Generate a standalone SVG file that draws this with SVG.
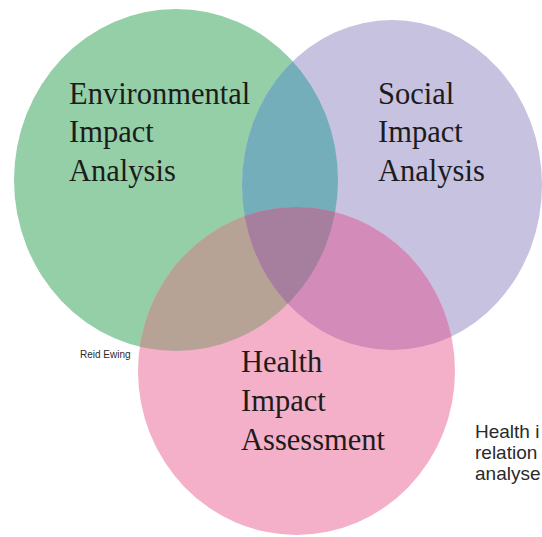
<svg xmlns="http://www.w3.org/2000/svg" width="542" height="537" viewBox="0 0 542 537">
  <style>
    .label { font-family: "Liberation Serif", "Times New Roman", serif; font-size: 30.5px; fill: #1c1c1c; }
    .note { font-family: "Liberation Sans", Arial, sans-serif; fill: #2a2a2a; }
  </style>
  <defs>
    <ellipse id="shape-env" cx="176" cy="180" rx="162" ry="171"/>
    <ellipse id="shape-soc" cx="392" cy="185" rx="150" ry="165"/>
    <ellipse id="shape-hia" cx="296.5" cy="371" rx="158.5" ry="164"/>
    <clipPath id="clip-env"><use href="#shape-env"/></clipPath>
    <clipPath id="clip-soc"><use href="#shape-soc"/></clipPath>
  </defs>
  <rect width="542" height="537" fill="#ffffff"/>

  <!-- base circles -->
  <g id="env">
    <use href="#shape-env" fill="#94cfa7"/>
  </g>
  <g id="soc">
    <use href="#shape-soc" fill="#c6c2e0"/>
  </g>
  <g id="hia">
    <use href="#shape-hia" fill="#f4b0c9"/>
  </g>

  <!-- overlap regions -->
  <g id="overlaps">
    <use href="#shape-soc" fill="#74aebb" clip-path="url(#clip-env)"/>
    <use href="#shape-hia" fill="#b7a396" clip-path="url(#clip-env)"/>
    <use href="#shape-hia" fill="#d38bb9" clip-path="url(#clip-soc)"/>
    <g clip-path="url(#clip-soc)">
      <use href="#shape-hia" fill="#a67e9e" clip-path="url(#clip-env)"/>
    </g>
  </g>

  <!-- circle labels -->
  <g id="labels">
    <text class="label" x="69" y="104">Environmental</text>
    <text class="label" x="69" y="142">Impact</text>
    <text class="label" x="69" y="181">Analysis</text>
    <text class="label" x="378" y="104">Social</text>
    <text class="label" x="378" y="142">Impact</text>
    <text class="label" x="378" y="181">Analysis</text>
    <text class="label" x="241" y="372">Health</text>
    <text class="label" x="241" y="411">Impact</text>
    <text class="label" x="241" y="450">Assessment</text>
  </g>

  <!-- credit and caption -->
  <text class="note" x="80" y="358" font-size="10">Reid Ewing</text>
  <g class="note" font-size="19">
    <text x="475" y="438">Health i</text>
    <text x="475" y="459">relation</text>
    <text x="475" y="480">analyse</text>
  </g>
</svg>
